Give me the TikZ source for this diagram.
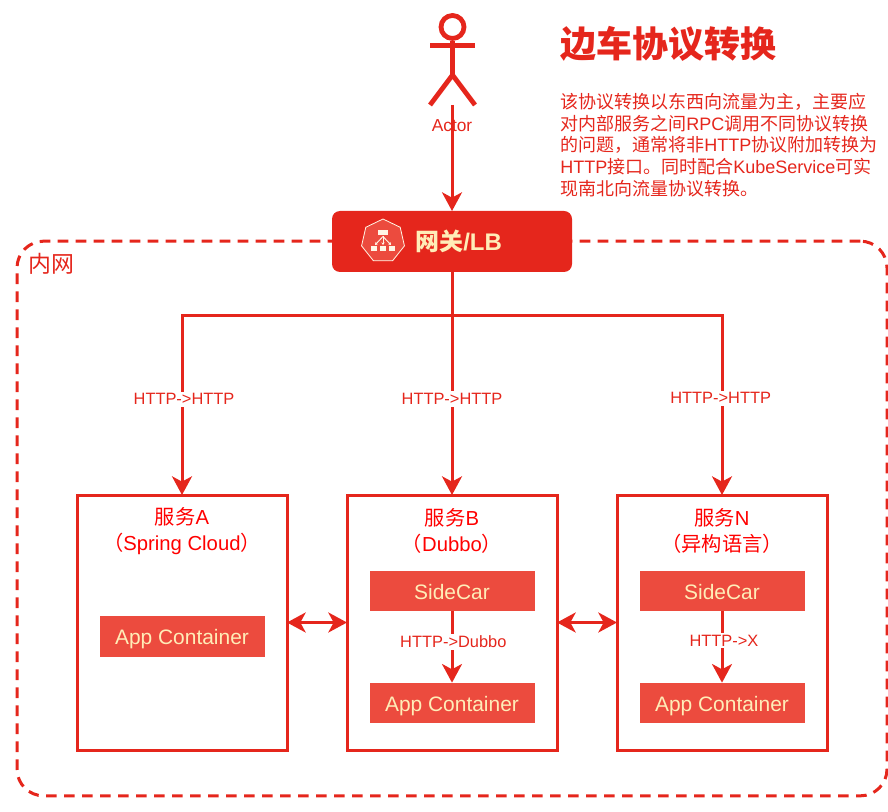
\documentclass[tikz,border=0pt]{standalone}
\usepackage{fontspec}
\setmainfont{Liberation Sans}
\newfontfamily\cjk{Noto Sans CJK SC}
\newcommand{\zh}[1]{{\cjk #1}}
\usetikzlibrary{arrows.meta,shapes.geometric}
\definecolor{lbred}{HTML}{E5261C}
\definecolor{boxred}{HTML}{EC4B3E}
\definecolor{cream}{HTML}{FFEDB8}
\definecolor{iconwhite}{HTML}{FFF6E6}
\begin{document}
\begin{tikzpicture}[
    x=0.75pt,y=-0.75pt,
    line join=miter
]
	\tikzset{
	    flow/.style = {-{Stealth[length=14pt,width=15pt,inset=4pt]},line width=2.25pt,lbred},
	    both/.style = {{Stealth[length=14pt,width=15pt,inset=4pt]}-{Stealth[length=14pt,width=15pt,inset=4pt]},line width=2.25pt,lbred},
	    svcbox/.style = {draw=lbred,line width=2.25pt,minimum width=157.5pt,minimum height=191.25pt,outer sep=0pt},
	    innerbox/.style = {fill=boxred,text=cream,minimum width=123.75pt,minimum height=30.5pt,outer sep=0pt,text height=12pt,text depth=0pt,font=\fontsize{15.7}{18}\selectfont},
	    svctitle/.style = {text=red,align=center,font=\fontsize{15.2}{19.5}\selectfont},
	    proto/.style = {fill=white,text=lbred,inner sep=1.5pt,font=\fontsize{12.3}{15}\selectfont},
	    stick/.style = {draw=lbred,line width=3.6pt},
	    iconline/.style = {draw=iconwhite,line width=0.7pt,-{Stealth[length=2pt,width=2.5pt]}}
	}
	\useasboundingbox (0,0) rectangle (888,812);
	% inner network
	\node[draw=lbred,dash pattern=on 8pt off 5.5pt,line width=2.25pt,rounded corners=20pt,minimum width=652.5pt,minimum height=416pt,outer sep=0pt] at (452,518.5) (intranet) {};
	\node[text=lbred,anchor=west,inner sep=0pt,font=\fontsize{17.2}{20}\selectfont] at (28,264) (intranetname) {\zh{内网}};
	% actor
	\node[circle,stick,minimum size=17.25pt,inner sep=0pt] at (452.5,27) (head) {};
	\coordinate (hip) at (452.5,75);
	\coordinate (armleft) at (430,45.5);
	\coordinate (armright) at (475,45.5);
	\coordinate (legleft) at (430,105);
	\coordinate (legright) at (475,105);
	\draw[stick] (head) -- (hip);
	\draw[stick] (armleft) -- (armright);
	\draw[stick] (legleft) -- (hip) -- (legright);
	\node[text=lbred,inner sep=0pt,font=\fontsize{13}{16}\selectfont] at (452,126) (actorname) {Actor};
	% gateway
	\node[fill=lbred,rounded corners=6pt,minimum width=180pt,minimum height=45.75pt,outer sep=0pt] at (452,241.5) (lb) {};
	\node[regular polygon,regular polygon sides=7,fill=boxred,draw=iconwhite,line width=0.6pt,minimum size=33pt,inner sep=0pt] at (383,241) (lbicon) {};
	\fill[iconwhite] (378,230.5) rectangle (388,235.5);
	\fill[iconwhite] (371,246) rectangle (377,251);
	\fill[iconwhite] (380,246) rectangle (386,251);
	\fill[iconwhite] (389,246) rectangle (395,251);
	\coordinate (iconfork) at (383,236.5);
	\draw[iconline] (iconfork) -- (375,245);
	\draw[iconline] (iconfork) -- (383,245);
	\draw[iconline] (iconfork) -- (391,245);
	\node[text=cream,anchor=west,inner sep=0pt,font=\fontsize{18}{22}\bfseries\selectfont] at (415,241) (lbname) {\zh{\bfseries 网关}/LB};
	% title and text
	\node[text=lbred,anchor=west,inner sep=0pt,font=\fontsize{27}{32}\selectfont] at (560,44) (title) {\zh{\bfseries 边车协议转换}};
	\node[text=lbred,anchor=north west,align=left,inner sep=0pt,font=\fontsize{13.5}{16.3}\selectfont] at (560,93) (intro) {\zh{该协议转换以东西向流量为主，主要应}\\
	\zh{对内部服务之间}RPC\zh{调用不同协议转换}\\
	\zh{的问题，通常将非}HTTP\zh{协议附加转换为}\\
	HTTP\zh{接口。同时配合}KubeService\zh{可实}\\
	\zh{现南北向流量协议转换。}};
	% services
	\node[svcbox] at (182,622.5) (svca) {};
	\node[svcbox] at (452,622.5) (svcb) {};
	\node[svcbox] at (722,622.5) (svcn) {};
	\node[svctitle] at (182,531) (svcaname) {\zh{服务}A\\\zh{（}Spring Cloud\zh{）}};
	\node[svctitle] at (452,531) (svcbname) {\zh{服务}B\\\zh{（}Dubbo\zh{）}};
	\node[svctitle] at (722,531) (svcnname) {\zh{服务}N\\\zh{（异构语言）}};
	\node[innerbox] at (182,636.5) (appa) {App Container};
	\node[innerbox] at (452,591) (carb) {SideCar};
	\node[innerbox] at (452,703) (appb) {App Container};
	\node[innerbox] at (722,591) (carn) {SideCar};
	\node[innerbox] at (722,703) (appn) {App Container};
	% connectors
	\coordinate (busa) at (182,316);
	\coordinate (busn) at (722,316);
	\draw[flow] (legleft -| lb) -- (lb.north);
	\draw[flow] (lb.south) |- (busa) -- node[proto,pos=0.465,xshift=1.5pt] {HTTP->HTTP} (svca.north);
	\draw[flow] (lb.south) -- node[proto,pos=0.57] {HTTP->HTTP} (svcb.north);
	\draw[flow] (lb.south) |- (busn) -- node[proto,pos=0.46,xshift=-1pt] {HTTP->HTTP} (svcn.north);
	\draw[flow] (carb) -- node[proto,pos=0.43,xshift=1pt] {HTTP->Dubbo} (appb);
	\draw[flow] (carn) -- node[proto,pos=0.41,xshift=1.5pt] {HTTP->X} (appn);
	\draw[both] (svca) -- (svcb);
	\draw[both] (svcb) -- (svcn);
\end{tikzpicture}
\end{document}
